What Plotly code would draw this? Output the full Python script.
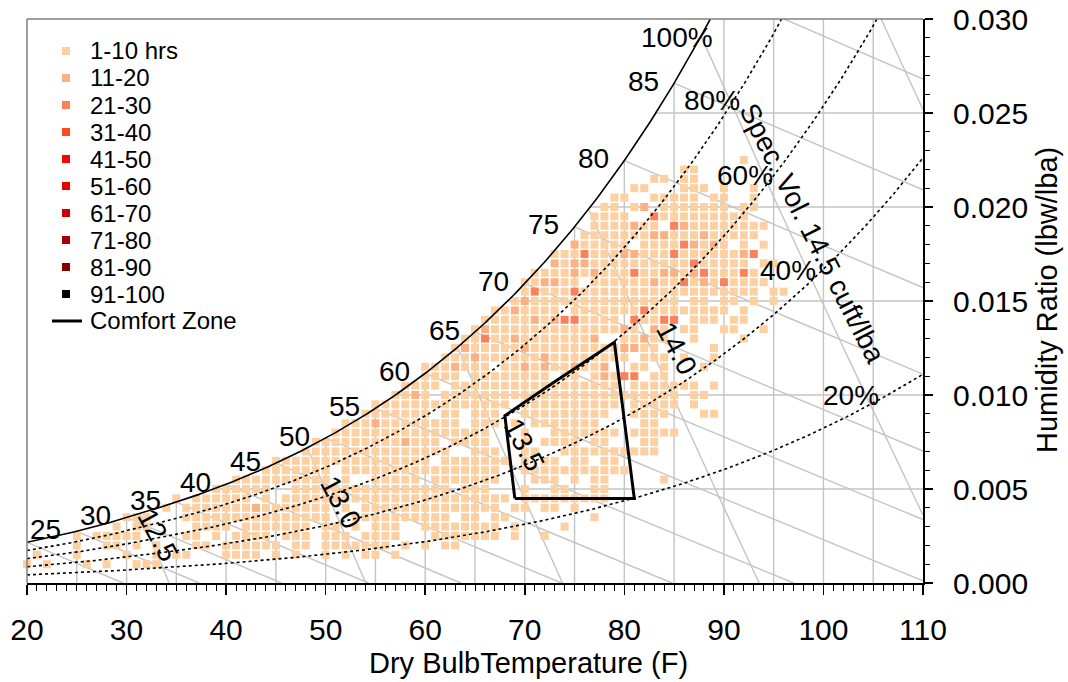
import numpy as np
import plotly.graph_objects as go

# ---------------- data ----------------
# humidity-ratio rows of the hour bins (lbw/lba)
HUM_ROWS = [0.0225, 0.0220, 0.0215, 0.0210, 0.0205, 0.0200, 0.0195, 0.0190, 0.0185, 0.0180,
            0.0175, 0.0170, 0.0165, 0.0160, 0.0155, 0.0150, 0.0145, 0.0140, 0.0135, 0.0130,
            0.0125, 0.0120, 0.0115, 0.0110, 0.0105, 0.0100, 0.0095, 0.0090, 0.0085, 0.0080,
            0.0075, 0.0070, 0.0065, 0.0060, 0.0055, 0.0050, 0.0045, 0.0040, 0.0035, 0.0030,
            0.0025, 0.0020, 0.0015, 0.0010]
# dry-bulb temperatures (F) occupied in each row; "a-b" = run of cells, ":n" = hour bin n (default 1)
TEMP_CELLS = [
    "92",
    "86 87",
    "83 84 86 87",
    "81 82 86-88 90 93",
    "79 80 83-87 89 90 93",
    "78 79 81 82:2 84-90 92 93",
    "77-80 83:3 84-92",
    "77-83 81:2 85:3 86:2 87-94",
    "76-93 83:2 84:2 88:2",
    "75-80 75:2 82-90 86:3 87:2 89:2 92 94",
    "73-93 76:3 80:2 81:2 85:3 92:2 93:3",
    "73-92 73:2 75:2 76:2 87:3 94 95",
    "71-93 75:2 77:2 81:3 84:2 85:2 87:2 88:3 92:3",
    "70-75 72:2 73:2 77-94 83:2 86:3 88:2 90:3",
    "70-93 71:3 75:3 95 96",
    "69-85 70:2 87 88 90 91 93 95",
    "67-73 69:2 75-90 82:3 92",
    "66-79 71:2 73:2 74:3 75:3 81-85 81:3 84:3 85:3 87-89 91 92",
    "65-81 66:2 80:2 83:2 84 86 87 90 91 94",
    "64-77 66:3 69:2 77:2 80-84 82:2 87 92",
    "63-83 64:2 70:2 80:2 81:2 89",
    "62-80 65:2 72:2 82-84 86 89",
    "60-66 63:2 68-78 70:2 72:2 75:2 78:2 81 82 84 88",
    "60-63 65-72 74 75 77-81 78:2 80:3 81:3 83 84",
    "58-61 63-79 81-87 89",
    "57-60 59:2 62-85 87 88",
    "55-68 70-79 81-85 87",
    "54-60 62 63 65-67 70-78 81-84 88 89",
    "52-63 55:2 65-67 69 71-77 82 83",
    "51-66 70 73-79 81-85",
    "49-61 58:2 63-66 70 72-75 77 78 82 83",
    "48-62 65-67 70 71 74-83",
    "45-60 62-68 70 72 73 75 76 78 79",
    "44-50 52-67 70-80",
    "41-50 52 55-59 61-67 71-73 75 77 78 84",
    "39-44 47-62 64-66 70 73 74 77 78",
    "35 37-42 44 46-68 70-78",
    "34 36-42 43:2 44-50 52 54-67 69 70 72 73 75",
    "30-32 36-50 53-62 64 65 67 68 77",
    "29 31 32 37-40 42-48 50 51 53 55-57 60-67 69 74",
    "25 27-31 36 37 39 41-44 46-48 50-52 54-57 61-67 69 72",
    "25 28 29 31 33 37 38 40-45 47 48 50-56 58 60 62 63",
    "21 25 30 33 35 36 40-43 45 47 50 52 54 55 57",
    "20 22 26 28 31 32 33",
]
BIN_LABELS = ["1-10 hrs", "11-20", "21-30", "31-40", "41-50",
              "51-60", "61-70", "71-80", "81-90", "91-100"]
BIN_COLORS = ["#FDD0A2", "#FDB080", "#FC805A", "#FF4A22", "#FF0000",
              "#E40000", "#C80000", "#A60000", "#840000", "#000000"]

COMFORT_T = [69, 81, 79, 73, 68, 69]
COMFORT_W = [0.0045, 0.0045, 0.0128, 0.0107, 0.0089, 0.0045]

RH_LEVELS = [0.8, 0.6, 0.4, 0.2]
RH_LABELS = ["100%", "80%", "60%", "40%", "20%"]
WB_TEMPS = [20, 25, 30, 35, 40, 45, 50, 55, 60, 65, 70, 75, 80, 85, 90]
WB_LABELS = [25, 30, 35, 40, 45, 50, 55, 60, 65, 70, 75, 80, 85]
SV_LEVELS = [12.5, 13.0, 13.5, 14.0, 14.5, 15.0]
SV_LABELS = ["12.5", "13.0", "13.5", "14.0", "Spec. Vol. 14.5 cuft/lba"]
X_TICKS = [20, 30, 40, 50, 60, 70, 80, 90, 100, 110]
Y_TICKS = [0.000, 0.005, 0.010, 0.015, 0.020, 0.025, 0.030]
V_GRID = [25, 30, 35, 40, 45, 50, 55, 60, 65, 70, 75, 80, 85, 90, 95, 100, 105]
H_GRID = [0.005, 0.010, 0.015, 0.020, 0.025]

# ---------------- psychrometric helpers ----------------
P_ATM = 14.55      # psia used for the saturation / RH curves
P_VOL = 14.64      # psia used for the specific-volume lines
T_MIN, T_MAX, W_MAX = 20.0, 110.0, 0.030


def p_ws(tf):
    tf = np.asarray(tf, dtype=float)
    T = tf + 459.67
    ln_w = (-1.0440397e4 / T - 1.1294650e1 - 2.7022355e-2 * T + 1.2890360e-5 * T ** 2
            - 2.4780681e-9 * T ** 3 + 6.5459673 * np.log(T))
    ln_i = (-1.0214165e4 / T - 4.8932428 - 5.3765794e-3 * T + 1.9202377e-7 * T ** 2
            + 3.5575832e-10 * T ** 3 - 9.0344688e-14 * T ** 4 + 4.1635019 * np.log(T))
    return np.exp(np.where(tf >= 32, ln_w, ln_i))


def w_rh(tf, rh):
    pw = rh * p_ws(tf)
    return 0.621945 * pw / (P_ATM - pw)


def w_sv(tf, v):
    return (v * P_VOL / (0.370486 * (np.asarray(tf) + 459.67)) - 1.0) / 1.607858


def bisect(f, a, b, n=60):
    fa = f(a)
    for _ in range(n):
        m = 0.5 * (a + b)
        fm = f(m)
        if (fm > 0) == (fa > 0):
            a, fa = m, fm
        else:
            b = m
    return 0.5 * (a + b)


def t_sat(w):
    return bisect(lambda t: float(w_rh(t, 1.0)) - w, -20.0, 140.0)


def parse_row(s):
    cells = {}
    for tok in s.split():
        lvl = 1
        if ":" in tok:
            tok, l = tok.split(":")
            lvl = int(l)
        if "-" in tok:
            a, b = tok.split("-")
            rng = range(int(a), int(b) + 1)
        else:
            rng = [int(tok)]
        for t in rng:
            cells[t] = lvl
    return cells


fig = go.Figure()
GREY = "#c4c4c4"


def add_line(x, y, color=GREY, width=1.4, dash="solid"):
    fig.add_trace(go.Scatter(x=x, y=y, mode="lines", hoverinfo="skip", showlegend=False,
                             line=dict(color=color, width=width, dash=dash)))


# vertical grid lines bounded by the saturation curve
for t in V_GRID:
    add_line([t, t], [0, min(float(w_rh(t, 1.0)), W_MAX)])
# horizontal grid lines from the saturation curve to the right edge
for w in H_GRID:
    add_line([t_sat(w), T_MAX], [w, w])
# constant wet-bulb (enthalpy) lines
for ts in WB_TEMPS:
    ws = float(w_rh(ts, 1.0))
    h = 0.240 * ts + ws * (1061 + 0.444 * ts)
    t_end = min(h / 0.240, T_MAX)
    tt = np.linspace(ts, t_end, 40)
    add_line(tt, (h - 0.240 * tt) / (1061 + 0.444 * tt))
# specific volume lines
for v in SV_LEVELS:
    t0 = bisect(lambda t: float(w_sv(t, v)) - float(w_rh(t, 1.0)), 0.0, 130.0)
    t1 = min(v * P_VOL / 0.370486 - 459.67, T_MAX)
    tt = np.linspace(t0, t1, 40)
    add_line(tt, w_sv(tt, v))

# hour-bin squares
xs = [[] for _ in BIN_LABELS]
ys = [[] for _ in BIN_LABELS]
for w, row in zip(HUM_ROWS, TEMP_CELLS):
    for t, lvl in parse_row(row).items():
        xs[lvl - 1].append(t)
        ys[lvl - 1].append(w)
for i, name in enumerate(BIN_LABELS):
    if xs[i]:
        fig.add_trace(go.Scatter(x=xs[i], y=ys[i], mode="markers", name=name, showlegend=False,
                                 cliponaxis=False,
                                 marker=dict(symbol="square", size=8, color=BIN_COLORS[i],
                                             line=dict(width=0))))

# relative humidity curves
tt = np.linspace(T_MIN, T_MAX, 400)
for rh in RH_LEVELS:
    add_line(tt, w_rh(tt, rh), color="black", width=1.6, dash="dot")
t_top = t_sat(W_MAX)
ts_curve = np.linspace(T_MIN, t_top, 300)
add_line(ts_curve, w_rh(ts_curve, 1.0), color="black", width=1.6)

# comfort zone
fig.add_trace(go.Scatter(x=COMFORT_T, y=COMFORT_W, mode="lines", name="Comfort Zone",
                         showlegend=False, line=dict(color="black", width=3)))

# ---------------- labels ----------------
ann = []
FS = 28
for ts in WB_LABELS:
    ann.append(dict(x=ts - 3.1, y=float(w_rh(ts, 1.0)) + 0.0001, text=str(ts), showarrow=False,
                    font=dict(size=FS)))
rh_pos = [(85.3, 0.0290), (88.8, 0.02569), (92.1, 0.0217), (96.4, 0.0166), (102.8, 0.00995)]
for (x, y), s in zip(rh_pos, RH_LABELS):
    ann.append(dict(x=x, y=y, text=s, showarrow=False, font=dict(size=FS)))
sv_pos = [(33.2, 0.00255, 62), (51.5, 0.00426, 62), (70.0, 0.00734, 62), (85.3, 0.0125, 62),
          (98.9, 0.0186, 63)]
for (x, y, a), s in zip(sv_pos, SV_LABELS):
    ann.append(dict(x=x, y=y, text=s, showarrow=False, textangle=a, font=dict(size=FS)))

# plot-area frame in page pixels (page body margin is removed below)
PL, PR, PT, PB = 27, 923, 19, 583
W_FIG, H_FIG = 1068, 682


def px2paper(px, py):
    return (px - PL) / (PR - PL), (PB - py) / (PB - PT)


# axis titles
tx, ty = px2paper(528, 663)
ann.append(dict(x=tx, y=ty, xref="paper", yref="paper", text="Dry BulbTemperature (F)",
                showarrow=False, font=dict(size=29), xanchor="center", yanchor="middle"))
tx, ty = px2paper(1047, 300)
ann.append(dict(x=tx, y=ty, xref="paper", yref="paper", text="Humidity Ratio (lbw/lba)",
                showarrow=False, font=dict(size=29), textangle=-90,
                xanchor="center", yanchor="middle"))

# legend (hand placed, tight rows like the original)
LEG_FS = 24
shapes = []
for i, name in enumerate(BIN_LABELS + ["Comfort Zone"]):
    py = 51 + 27 * i
    tx, ty = px2paper(88, py)
    ann.append(dict(x=tx, y=ty, xref="paper", yref="paper", text=name, showarrow=False,
                    xanchor="left", yanchor="middle", font=dict(size=LEG_FS)))
    if i < len(BIN_LABELS):
        x0, y0 = px2paper(62, py + 4)
        x1, y1 = px2paper(70, py - 4)
        shapes.append(dict(type="rect", xref="paper", yref="paper", x0=x0, y0=y0, x1=x1, y1=y1,
                           fillcolor=BIN_COLORS[i], line=dict(width=0)))
    else:
        x0, y0 = px2paper(52, py)
        x1, _ = px2paper(82, py)
        shapes.append(dict(type="line", xref="paper", yref="paper", x0=x0, y0=y0, x1=x1, y1=y0,
                           line=dict(color="black", width=3)))
# grey frame on top and left
shapes.append(dict(type="line", xref="paper", yref="paper", x0=0, y0=1, x1=1, y1=1,
                   line=dict(color="#808080", width=1.5)))
shapes.append(dict(type="line", xref="paper", yref="paper", x0=0, y0=0, x1=0, y1=1,
                   line=dict(color="#808080", width=1.5)))

fig.update_layout(
    width=W_FIG, height=H_FIG,
    margin=dict(l=PL, r=W_FIG - PR, t=PT, b=H_FIG - PB, autoexpand=False),
    paper_bgcolor="white", plot_bgcolor="white", showlegend=False, hovermode=False,
    font=dict(family="Liberation Sans, Arial, sans-serif", size=FS, color="black"),
    annotations=ann, shapes=shapes,
)
fig.update_xaxes(
    range=[T_MIN, T_MAX + 1e-6], tickvals=X_TICKS, ticks="outside", ticklen=10, tickwidth=1.5,
    tickcolor="black", showline=True, linecolor="black", linewidth=2, showgrid=False,
    zeroline=False, tickfont=dict(size=30), ticklabelstandoff=9, automargin=False,
    ticklabeloverflow="allow",
    minor=dict(tick0=20, dtick=1, ticks="outside", ticklen=6, tickwidth=1, tickcolor="black",
               showgrid=False),
)
fig.update_yaxes(
    range=[0, W_MAX + 1e-9], side="right", tickvals=Y_TICKS, tickformat=".3f", ticks="outside",
    ticklen=8, tickwidth=1.5, tickcolor="black", showline=True, linecolor="black", linewidth=2,
    showgrid=False, zeroline=False, tickfont=dict(size=30), ticklabelstandoff=14,
    automargin=False, ticklabeloverflow="allow",
    minor=dict(tick0=0, dtick=0.001, ticks="outside", ticklen=5, tickwidth=1,
               tickcolor="black", showgrid=False),
)

fig.write_html("out.html", config={"displayModeBar": False, "staticPlot": True},
               post_script="document.body.style.margin='0';document.body.style.overflow='hidden';")
